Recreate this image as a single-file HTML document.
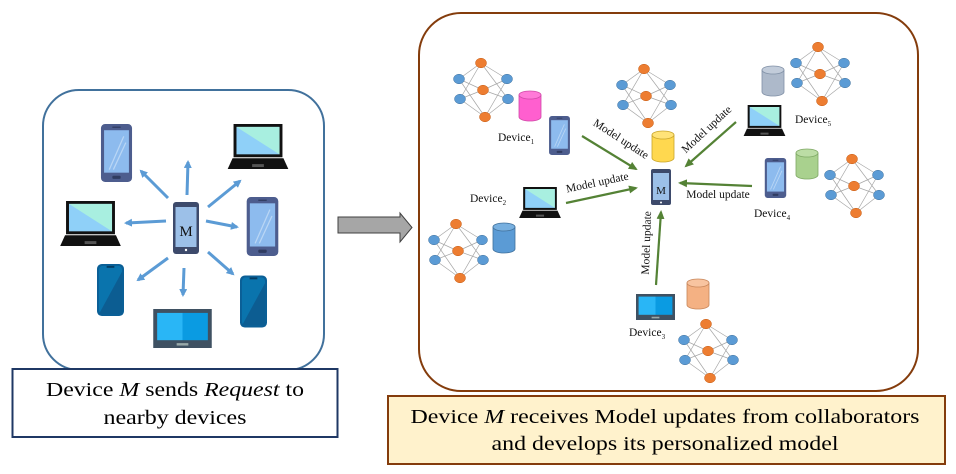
<!DOCTYPE html>
<html><head><meta charset="utf-8"><style>
html,body{margin:0;padding:0;background:#fff;}
svg{display:block;}
text{font-family:"Liberation Serif",serif;}
</style></head><body>
<svg width="956" height="474" viewBox="0 0 956 474" xmlns="http://www.w3.org/2000/svg">
<defs>
<marker id="ab" markerWidth="8" markerHeight="8" refX="6" refY="4" orient="auto" markerUnits="userSpaceOnUse"><path d="M0,0 L8,4 L0,8 z" fill="#5b9bd5"/></marker>
<marker id="ag" markerWidth="9" markerHeight="8" refX="7" refY="4" orient="auto" markerUnits="userSpaceOnUse"><path d="M0,0 L9,4 L0,8 z" fill="#548235"/></marker>
<symbol id="phone" viewBox="0 0 30 56"><rect x="0" y="0" width="30" height="56" rx="4" fill="#4d5d8e"/><rect x="3" y="6" width="24" height="41" fill="#8dbbee"/><path d="M8 44 L22 12 M12 44 L24 18" stroke="#b9d6f5" stroke-width="1.2"/><rect x="11" y="50" width="8" height="3" rx="1" fill="#2f3b60"/><rect x="11" y="2.5" width="8" height="1.2" fill="#2f3b60"/></symbol>
<symbol id="laptop" viewBox="0 0 62 46"><rect x="6" y="0" width="50" height="34" fill="#111"/><rect x="9" y="3" width="44" height="28" fill="#8fd0f8"/><path d="M9 3 H53 V31 z" fill="#a8efe0"/><path d="M5 35 H57 L62 46 H0 z" fill="#111"/><rect x="25" y="41" width="12" height="3" fill="#555"/></symbol>
<symbol id="teal" viewBox="0 0 28 54"><rect x="0" y="0" width="28" height="54" rx="5" fill="#0b5f96"/><rect x="2" y="2" width="24" height="50" rx="4" fill="#0a74ad"/><path d="M2 52 L26 8 V52 z" fill="#0c5d92"/><rect x="10" y="2" width="8" height="2" fill="#043c63"/></symbol>
<symbol id="tab" viewBox="0 0 60 40"><rect x="0" y="0" width="60" height="40" fill="#3f5162"/><rect x="4" y="4" width="26" height="28" fill="#29b6f6"/><rect x="30" y="4" width="26" height="28" fill="#0a9be2"/><rect x="24" y="35" width="12" height="2.5" fill="#9aa"/></symbol>
<g id="nn">
<g stroke="#a6a6a6" stroke-width="0.7">
<path d="M-22 16 L0 0 M-22 16 L2 27 M-22 16 L4 54 M-21 36 L0 0 M-21 36 L2 27 M-21 36 L4 54 M26 16 L0 0 M26 16 L2 27 M26 16 L4 54 M27 36 L0 0 M27 36 L2 27 M27 36 L4 54"/>
</g>
<g fill="#5b9bd5" stroke="#41719c" stroke-width="0.5"><ellipse cx="-22" cy="16" rx="5.5" ry="4.8"/><ellipse cx="-21" cy="36" rx="5.5" ry="4.8"/><ellipse cx="26" cy="16" rx="5.5" ry="4.8"/><ellipse cx="27" cy="36" rx="5.5" ry="4.8"/></g>
<g fill="#ed7d31" stroke="#c55a11" stroke-width="0.5"><ellipse cx="0" cy="0" rx="5.5" ry="4.8"/><ellipse cx="2" cy="27" rx="5.5" ry="4.8"/><ellipse cx="4" cy="54" rx="5.5" ry="4.8"/></g>
</g>
</defs>

<!-- left box -->
<rect x="43" y="90" width="281" height="280" rx="36" fill="#fff" stroke="#41719c" stroke-width="2"/>
<g stroke="#5b9bd5" stroke-width="3" marker-end="url(#ab)">
<line x1="187" y1="195" x2="188" y2="162"/>
<line x1="168" y1="198" x2="141" y2="171"/>
<line x1="208" y1="207" x2="240" y2="181"/>
<line x1="166" y1="221" x2="126" y2="223"/>
<line x1="206" y1="221" x2="237" y2="227"/>
<line x1="168" y1="258" x2="138" y2="280"/>
<line x1="184" y1="268" x2="183" y2="295"/>
<line x1="208" y1="252" x2="233" y2="274"/>
</g>
<use href="#phone" x="100" y="124" width="33" height="58"/>
<use href="#laptop" x="227" y="124" width="62" height="45"/>
<use href="#laptop" x="59" y="201" width="63" height="45"/>
<use href="#phone" x="246" y="197" width="33" height="59"/>
<use href="#teal" x="97" y="263" width="27" height="54"/>
<use href="#teal" x="240" y="275" width="27" height="53"/>
<use href="#tab" x="153" y="309" width="59" height="39"/>
<rect x="173" y="202" width="26" height="52" rx="3" fill="#3d4a6b"/><rect x="175.5" y="207" width="21" height="40" fill="#9cc0e8"/><circle cx="186" cy="250" r="1.2" fill="#fff"/>
<text x="186" y="236" font-size="15" text-anchor="middle" fill="#111">M</text>

<!-- left label -->
<rect x="12.5" y="369" width="325" height="68" fill="#fff" stroke="#1f3864" stroke-width="2"/>
<text x="175" y="396" font-size="20" text-anchor="middle" textLength="258" lengthAdjust="spacingAndGlyphs">Device <tspan font-style="italic">M</tspan> sends <tspan font-style="italic">Request</tspan> to</text>
<text x="175" y="424" font-size="20" text-anchor="middle" textLength="143" lengthAdjust="spacingAndGlyphs">nearby devices</text>

<!-- gray arrow -->
<path d="M338 217 H400 V213 L412 227.5 L400 242 V233 H338 z" fill="#a6a6a6" stroke="#404040" stroke-width="1"/>

<!-- right box -->
<rect x="419" y="13" width="499" height="378" rx="42" fill="#fff" stroke="#843c0c" stroke-width="2"/>

<use href="#nn" x="481" y="63"/>
<use href="#nn" x="644" y="69"/>
<use href="#nn" x="818" y="47"/>
<use href="#nn" x="852" y="159"/>
<use href="#nn" x="456" y="224"/>
<use href="#nn" x="706" y="324"/>

<!-- cylinders -->
<g stroke-width="0.8">
<path d="M519 95 V117 A11 4 0 0 0 541 117 V95 z" fill="#ff5fcf" stroke="#d04aa8"/><ellipse cx="530" cy="95" rx="11" ry="4" fill="#ff7ad8" stroke="#d04aa8"/>
<path d="M652 135 V158 A11 4 0 0 0 674 158 V135 z" fill="#ffd84f" stroke="#c9a52a"/><ellipse cx="663" cy="135" rx="11" ry="4" fill="#ffe378" stroke="#c9a52a"/>
<path d="M762 70 V92 A11 4 0 0 0 784 92 V70 z" fill="#adb9ca" stroke="#8090a6"/><ellipse cx="773" cy="70" rx="11" ry="4" fill="#c2ccda" stroke="#8090a6"/>
<path d="M796 153 V175 A11 4 0 0 0 818 175 V153 z" fill="#a9d18e" stroke="#7ea864"/><ellipse cx="807" cy="153" rx="11" ry="4" fill="#bcdda5" stroke="#7ea864"/>
<path d="M493 227 V249 A11 4 0 0 0 515 249 V227 z" fill="#5b9bd5" stroke="#41719c"/><ellipse cx="504" cy="227" rx="11" ry="4" fill="#78b0e0" stroke="#41719c"/>
<path d="M687 283 V305 A11 4 0 0 0 709 305 V283 z" fill="#f4b183" stroke="#c8865a"/><ellipse cx="698" cy="283" rx="11" ry="4" fill="#f8c4a0" stroke="#c8865a"/>
</g>

<!-- devices -->
<use href="#phone" x="547" y="116" width="25" height="39"/>
<use href="#laptop" x="741" y="105" width="47" height="31"/>
<use href="#phone" x="763" y="158" width="25" height="40"/>
<use href="#laptop" x="516" y="187" width="48" height="31"/>
<use href="#tab" x="633" y="294" width="45" height="26"/>
<rect x="651" y="169" width="20" height="36" rx="2" fill="#3d4a6b"/><rect x="653" y="173" width="16" height="27" fill="#9cc0e8"/><circle cx="661" cy="202.5" r="1" fill="#fff"/>
<text x="661" y="194" font-size="11" text-anchor="middle" fill="#111">M</text>

<g font-size="11.5" fill="#111">
<text x="498" y="141">Device<tspan font-size="7" dy="3">1</tspan></text>
<text x="795" y="123">Device<tspan font-size="7" dy="3">5</tspan></text>
<text x="754" y="217">Device<tspan font-size="7" dy="3">4</tspan></text>
<text x="470" y="202">Device<tspan font-size="7" dy="3">2</tspan></text>
<text x="629" y="336">Device<tspan font-size="7" dy="3">3</tspan></text>
</g>

<g stroke="#548235" stroke-width="2.2" marker-end="url(#ag)">
<line x1="582" y1="136" x2="636" y2="169"/>
<line x1="736" y1="122" x2="686" y2="166"/>
<line x1="752" y1="186" x2="680" y2="183"/>
<line x1="566" y1="203" x2="636" y2="188"/>
<line x1="656" y1="285" x2="661" y2="212"/>
</g>
<g font-size="11.5" fill="#111" text-anchor="middle">
<text transform="translate(619,142) rotate(33)">Model update</text>
<text transform="translate(709,132) rotate(-43)">Model update</text>
<text transform="translate(598,186) rotate(-12)">Model update</text>
<text transform="translate(718,198)">Model update</text>
<text transform="translate(650,243) rotate(-88)">Model update</text>
</g>

<!-- right label -->
<rect x="388" y="396" width="557" height="68" fill="#fff2cc" stroke="#843c0c" stroke-width="2"/>
<text x="665" y="423" font-size="20" text-anchor="middle" textLength="509" lengthAdjust="spacingAndGlyphs">Device <tspan font-style="italic">M</tspan> receives Model updates from collaborators</text>
<text x="665" y="450" font-size="20" text-anchor="middle" textLength="347" lengthAdjust="spacingAndGlyphs">and develops its personalized model</text>
</svg>
</body></html>
